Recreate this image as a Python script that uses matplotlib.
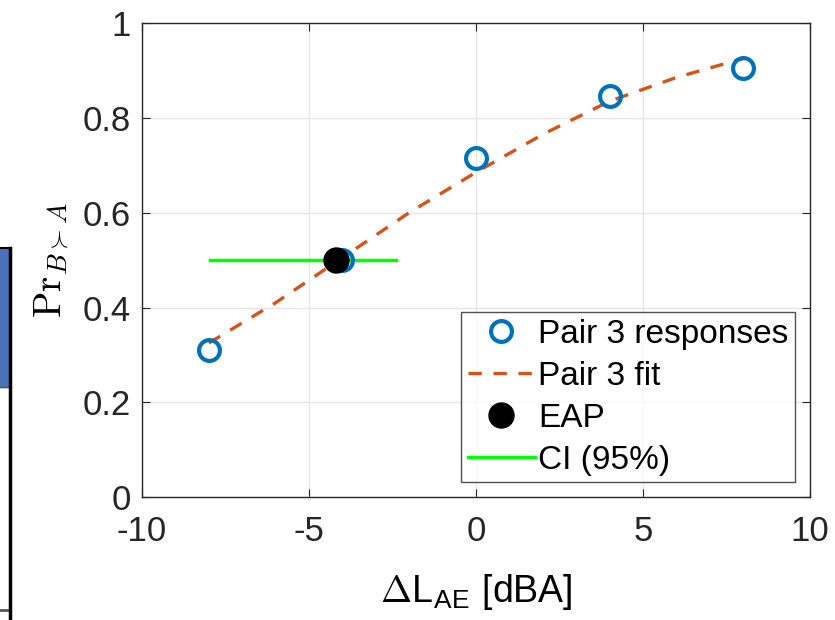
import matplotlib
matplotlib.use("Agg")
import matplotlib.pyplot as plt

plt.rcParams["font.family"] = ["Liberation Sans", "DejaVu Sans"]
plt.rcParams["mathtext.fontset"] = "cm"
plt.rcParams["axes.unicode_minus"] = False

# data
dL = [-8, -4, 0, 4, 8]
resp = [0.31, 0.50, 0.715, 0.845, 0.905]
fit_x = [-8, -6, -4, -2, 0, 2, 4, 6, 8]
fit_y = [0.325, 0.41, 0.505, 0.60, 0.685, 0.765, 0.835, 0.885, 0.925]
eap_x = -4.2
eap_y = 0.5
ci_x = [-7.95, -2.4]

blue = "#0072BD"
orange = "#D95319"
green = "#00FF00"

fig = plt.figure(figsize=(8.35, 6.2), dpi=100)
ax = fig.add_axes([0.170, 0.198, 0.800, 0.765])

ax.plot(dL, resp, "o", mfc="none", mec=blue, ms=15, mew=3, label="Pair 3 responses", zorder=3)
ax.plot(fit_x, fit_y, "--", color=orange, lw=2.4, dashes=(4, 3.5), label="Pair 3 fit", zorder=2)
ax.plot([eap_x], [eap_y], "o", color="black", ms=18, label="EAP", zorder=4)
ax.plot(ci_x, [eap_y, eap_y], "-", color=green, lw=2.5, label="CI (95%)", zorder=2)

ax.set_xlim(-10, 10)
ax.set_ylim(0, 1)
ax.set_xticks([-10, -5, 0, 5, 10])
ax.set_yticks([0, 0.2, 0.4, 0.6, 0.8, 1])
ax.set_yticklabels(["0", "0.2", "0.4", "0.6", "0.8", "1"])
ax.grid(True, color="#e6e6e6", lw=1)
ax.set_axisbelow(True)
ax.tick_params(direction="in", top=True, right=True, labelsize=25, colors="#262626", length=6)
ax.tick_params(axis="x", pad=13)
ax.tick_params(axis="y", pad=8)
for s in ax.spines.values():
    s.set_color("#262626")
    s.set_linewidth(1)

ax.set_xlabel(r"$\Delta$L$_{\mathregular{AE}}$ [dBA]", fontsize=27, labelpad=17)
ax.set_ylabel(r"$\mathrm{Pr}_{B\succ A}$", fontsize=28, labelpad=8)

leg = ax.legend(loc="lower right", fontsize=24, frameon=True, fancybox=False,
                edgecolor="#262626", handlelength=2.0, handletextpad=0.1,
                borderpad=0.2, labelspacing=0.33, borderaxespad=0.45)
leg.get_frame().set_linewidth(1)

# fragment of neighbouring panel at the left edge
ax2 = fig.add_axes([0.0, 0.0, 0.0115, 0.60])
ax2.set_xlim(0, 1)
ax2.set_ylim(0, 1)
ax2.axhspan(0.626, 1.0, color="#4A72B8")
ax2.axhline(0.626, color="#555555", lw=1)
ax2.axhline(0.027, color="#555555", lw=2)
ax2.set_xticks([])
ax2.set_yticks([])
for k in ["left", "bottom"]:
    ax2.spines[k].set_visible(False)
ax2.spines["right"].set_linewidth(2.5)
ax2.spines["top"].set_linewidth(1.5)

fig.savefig("out.png", dpi=100)
